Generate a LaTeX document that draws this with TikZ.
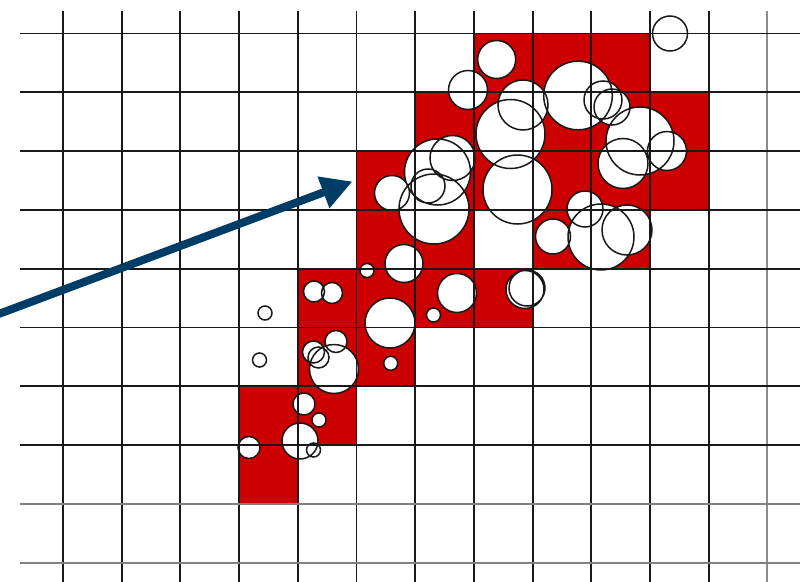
\documentclass[tikz,border=0pt]{standalone}
\usetikzlibrary{arrows.meta}

\definecolor{cellred}{RGB}{204,0,0}
\definecolor{arrowblue}{RGB}{0,61,102}

% all the bubbles as one path: x, y (pixels from top left) and radius
\newcommand{\bubbles}{
  (496.7,59.5) circle (19) (468,90) circle (19.5) (523,105) circle (25)
  (510.5,134) circle (34.5) (578,95.5) circle (34.3) (603,100) circle (19)
  (612,107) circle (18) (670,33.5) circle (17.5) (640,141) circle (34)
  (623,163.5) circle (25) (667,151) circle (19.5)
  (517.5,189.5) circle (34.5) (585,209) circle (18) (553,236.5) circle (17.5)
  (601,237) circle (33) (627,230) circle (25)
  (437.5,172) circle (33) (452.5,158) circle (22.5) (428,186) circle (17)
  (434,209) circle (35) (392,193) circle (17.5) (404,263.5) circle (19)
  (367,270.5) circle (7) (525,289.5) circle (19) (527,288) circle (18)
  (457,293) circle (19.5) (433.5,315) circle (7) (390,323) circle (25)
  (390.7,363.3) circle (7) (314,291.5) circle (10.5) (332,293) circle (10.5)
  (265,313) circle (7) (259.5,360) circle (7)
  (336,341.5) circle (11) (313.5,352) circle (11) (318.5,357.5) circle (10.5)
  (334,369) circle (24.5) (304,404) circle (11) (319,420) circle (7)
  (300,441) circle (18) (313.5,450) circle (7) (249,447.5) circle (11)
}

\begin{document}
\begin{tikzpicture}[x=0.03cm, y=-0.03cm]

\useasboundingbox (0,0) rectangle (800,582);

% Occupied cells (red)
\begin{scope}[cellred]
\fill (473.9, 33.5) rectangle (650.0, 92.3);
\fill (415.2, 92.3) rectangle (708.7,151.1);
\fill (356.5,151.1) rectangle (708.7,209.9);
\fill (356.5,209.9) rectangle (473.9,268.7);
\fill (532.6,209.9) rectangle (650.0,268.7);
\fill (297.8,268.7) rectangle (532.6,327.5);
\fill (297.8,327.5) rectangle (415.2,386.3);
\fill (239.1,386.3) rectangle (356.5,445.1);
\fill (239.1,445.1) rectangle (297.8,503.9);
\end{scope}

% Bubbles (white, outlines drawn after all fills)
\fill[white] \bubbles;
\draw[line width=0.045cm, black!90] \bubbles;

\begin{scope}[line width=0.055cm, black!90]
% Vertical grid lines
\draw ( 63.0,11) -- ( 63.0,582);
\draw (121.7,11) -- (121.7,582);
\draw (180.4,11) -- (180.4,582);
\draw (239.1,11) -- (239.1,582);
\draw (297.8,11) -- (297.8,582);
\draw (356.5,11) -- (356.5,582);
\draw (415.2,11) -- (415.2,582);
\draw (473.9,11) -- (473.9,582);
\draw (532.6,11) -- (532.6,582);
\draw (591.3,11) -- (591.3,582);
\draw (650.0,11) -- (650.0,582);
\draw (708.7,11) -- (708.7,582);
\draw[black!45] (767.4,11) -- (767.4,582);

% Horizontal grid lines
\draw (20, 33.5) -- (800, 33.5);
\draw (20, 92.3) -- (800, 92.3);
\draw (20,151.1) -- (800,151.1);
\draw (20,209.9) -- (800,209.9);
\draw (20,268.7) -- (800,268.7);
\draw (20,327.5) -- (800,327.5);
\draw (20,386.3) -- (800,386.3);
\draw (20,445.1) -- (800,445.1);
\draw[black!50] (20,503.9) -- (800,503.9);
\draw[black!50] (20,562.7) -- (800,562.7);
\end{scope}

% Pointer arrow
\coordinate (ptrtail) at (-4,315);
\coordinate (ptrtip) at (352.5,181.5);
\draw[arrowblue, line width=0.24cm, -{Triangle[length=0.93cm, width=0.95cm]}] (ptrtail) -- (ptrtip);

\end{tikzpicture}
\end{document}
